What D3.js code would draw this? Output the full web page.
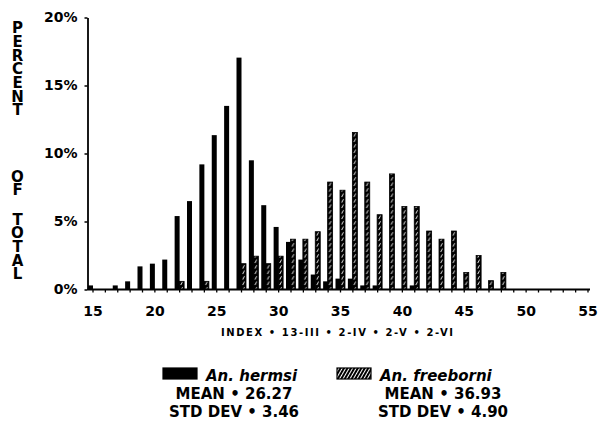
<!DOCTYPE html>
<html>
<head>
<meta charset="utf-8">
<script src="https://cdn.jsdelivr.net/npm/d3@7/dist/d3.min.js"></script>
<style>
  html, body { margin: 0; padding: 0; background: #fff; }
  svg { display: block; }
  text { font-family: "DejaVu Sans", "Liberation Sans", sans-serif; font-weight: bold; fill: #000; }
</style>
</head>
<body>
<div id="chart"></div>
<script>
// ---- data ----
const indexValues = [15,16,17,18,19,20,21,22,23,24,25,26,27,28,29,30,31,32,33,34,35,36,37,38,39,40,41,42,43,44,45,46,47,48];
const hermsi      = [0.3,0,0.3,0.6,1.7,1.9,2.2,5.4,6.5,9.2,11.35,13.5,17.05,9.5,6.2,4.6,3.5,2.2,1.1,0.6,0.8,0.8,0.3,0.3,0,0,0.3,0,0,0,0,0,0,0];
const freeborni   = [0,0,0,0,0,0,0,0.6,0,0.6,0,0,1.9,2.45,1.9,2.45,3.7,3.7,4.25,7.9,7.3,11.55,7.9,5.5,8.5,6.1,6.1,4.3,3.7,4.3,1.25,2.5,0.65,1.25];
const xTicks = [15,16,17,18,19,20,21,22,23,24,25,26,27,28,29,30,31,32,33,34,35,36,37,38,39,40,41,42,43,44,45,46,47,48,49,50,51,52,53,54,55];
const xTickLabels = [15,20,25,30,35,40,45,50,55];
const yTicks = [0,5,10,15,20];
const yTitleWords = ["PERCENT", "OF", "TOTAL"];
const xTitle = "INDEX • 13-III • 2-IV • 2-V • 2-VI";
const seriesNames = ["An. hermsi", "An. freeborni"];
const seriesMeans = ["MEAN • 26.27", "MEAN • 36.93"];
const seriesSD = ["STD DEV • 3.46", "STD DEV • 4.90"];

const W = 599, H = 431;
const svg = d3.select("#chart").append("svg").attr("width", W).attr("height", H);

const x = d3.scaleLinear().domain([15, 55]).range([92.5, 587.5]);
const y = d3.scaleLinear().domain([0, 20]).range([289.5, 17.5]);
const step = x(16) - x(15);
const axisX = 87.5;

// patterns
const defs = svg.append("defs");
const pat = defs.append("pattern").attr("id", "hatchBar")
  .attr("patternUnits", "userSpaceOnUse")
  .attr("x", x(15)).attr("y", 0).attr("width", step).attr("height", 5.5);
pat.append("rect").attr("width", step).attr("height", 5.5).attr("fill", "#000");
pat.append("path").attr("d", "M1.6,4.6 L3.4,1.2").attr("stroke", "#fff").attr("stroke-width", 0.9);

const pat2 = defs.append("pattern").attr("id", "hatchLeg")
  .attr("patternUnits", "userSpaceOnUse").attr("width", 3).attr("height", 3)
  .attr("patternTransform", "rotate(30)");
pat2.append("rect").attr("width", 3).attr("height", 3).attr("fill", "#000");
pat2.append("rect").attr("width", 1).attr("height", 3).attr("fill", "#fff");

// bars
const data = indexValues.map((d, i) => ({ idx: d, h: hermsi[i], f: freeborni[i] }));
svg.append("g").selectAll("rect").data(data.filter(d => d.h > 0)).join("rect")
  .attr("x", d => x(d.idx) - 4.5).attr("width", 5)
  .attr("y", d => y(d.h)).attr("height", d => y(0) - y(d.h))
  .attr("fill", "#000");
svg.append("g").selectAll("rect").data(data.filter(d => d.f > 0)).join("rect")
  .attr("x", d => x(d.idx)).attr("width", 5)
  .attr("y", d => y(d.f)).attr("height", d => y(0) - y(d.f))
  .attr("fill", "url(#hatchBar)").attr("stroke", "#000").attr("stroke-width", 0.8);

// y axis
const gy = svg.append("g").attr("transform", `translate(${axisX},0)`)
  .call(d3.axisLeft(y).tickValues(yTicks).tickFormat(d => d + "%").tickSize(3).tickSizeOuter(0).tickPadding(7));
gy.select(".domain").attr("stroke", "#000").attr("stroke-width", 1.8);
gy.selectAll(".tick line").attr("stroke", "#000").attr("stroke-width", 1.5);
gy.selectAll(".tick text").attr("font-size", 14).attr("font-family", "DejaVu Sans").attr("font-weight", "bold");

// x axis
const gx = svg.append("g").attr("transform", `translate(0,${y(0)})`)
  .call(d3.axisBottom(x).tickValues(xTicks)
    .tickFormat(d => xTickLabels.includes(d) ? d : "").tickSize(3).tickSizeOuter(0).tickPadding(13.5));
gx.select(".domain").remove();
gx.selectAll(".tick line").attr("stroke", "#000").attr("stroke-width", 1.3);
gx.selectAll(".tick text").attr("font-size", 14).attr("font-family", "DejaVu Sans").attr("font-weight", "bold");
svg.append("line").attr("x1", axisX).attr("x2", 590).attr("y1", y(0)).attr("y2", y(0))
  .attr("stroke", "#000").attr("stroke-width", 1.8);

// x title
svg.append("text").attr("x", 337).attr("y", 336).attr("text-anchor", "middle")
  .attr("font-size", 10).attr("textLength", 232).attr("lengthAdjust", "spacing")
  .text(xTitle);

// y title (stacked upright letters, vertical writing mode)
const wordTops = [19.3, 167.7, 211];
const yt = svg.append("text")
  .attr("font-size", 15)
  .style("writing-mode", "vertical-rl")
  .style("text-orientation", "upright")
  .attr("letter-spacing", -4.3);
yTitleWords.forEach((w, wi) => {
  yt.append("tspan").attr("x", 17.5).attr("y", wordTops[wi]).text(w);
});

// legend
const legX = [163, 337];
const legCenter = [234, 443];
seriesNames.forEach((name, i) => {
  const g = svg.append("g");
  g.append("rect").attr("x", legX[i]).attr("y", 368).attr("width", 34).attr("height", 11)
    .attr("fill", i === 0 ? "#000" : "url(#hatchLeg)").attr("stroke", "#000").attr("stroke-width", 1.2);
  g.append("text").attr("x", legX[i] + 43).attr("y", 381).attr("font-size", 15).attr("font-style", "italic")
    .text(name);
  g.append("text").attr("x", legCenter[i]).attr("y", 399).attr("text-anchor", "middle").attr("font-size", 15)
    .text(seriesMeans[i]);
  g.append("text").attr("x", legCenter[i]).attr("y", 417).attr("text-anchor", "middle").attr("font-size", 15)
    .text(seriesSD[i]);
});
</script>
</body>
</html>
